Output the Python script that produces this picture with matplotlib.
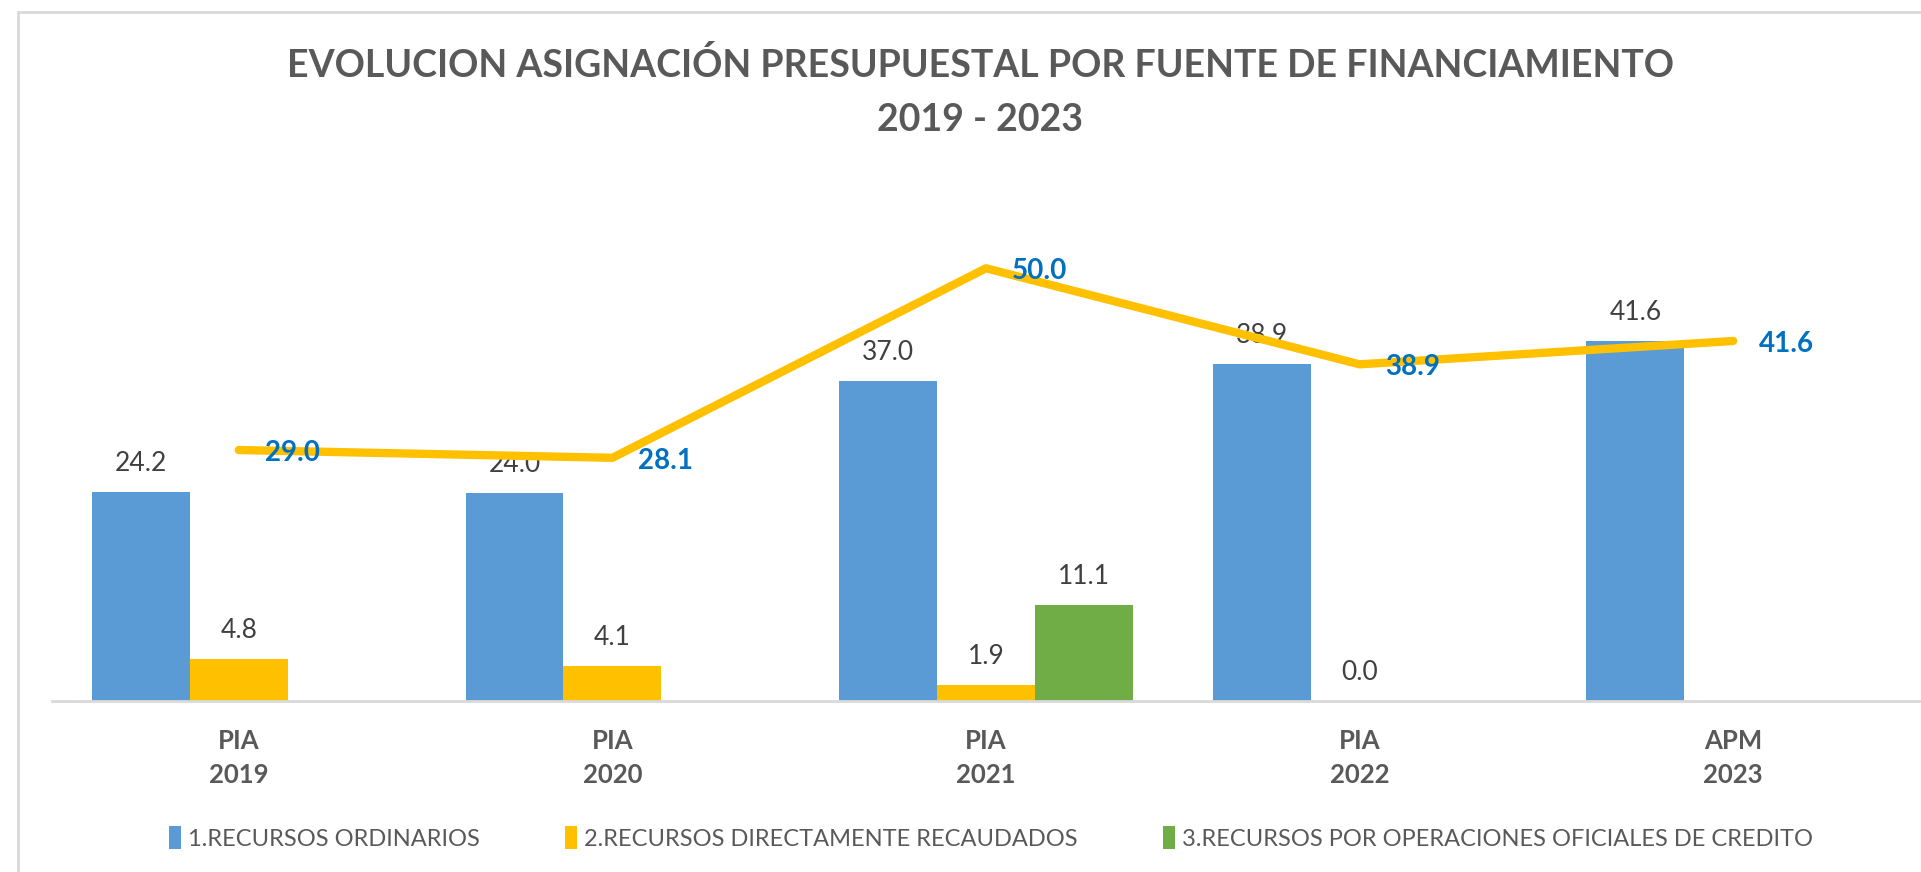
import numpy as np
import matplotlib.pyplot as plt
from matplotlib.patches import Rectangle

plt.rcParams['font.family'] = ['Lato', 'DejaVu Sans']

# datos (millones)
categorias = ["PIA\n2019", "PIA\n2020", "PIA\n2021", "PIA\n2022", "APM\n2023"]
ordinarios = [24.2, 24.0, 37.0, 38.9, 41.6]
directos = [4.8, 4.1, 1.9, 0.0, np.nan]
credito = [np.nan, np.nan, 11.1, np.nan, np.nan]
total = [29.0, 28.1, 50.0, 38.9, 41.6]

series = ["1.RECURSOS ORDINARIOS", "2.RECURSOS DIRECTAMENTE RECAUDADOS",
          "3.RECURSOS POR OPERACIONES OFICIALES DE CREDITO"]
colores = ["#5B9BD5", "#FFC000", "#70AD47"]

W, H = 1921, 872
fig = plt.figure(figsize=(W / 100, H / 100), dpi=100)
ax = fig.add_axes([52 / W, (H - 701) / H, (1920 - 52) / W, 476 / H])

x = np.arange(len(categorias))
ancho = 0.262
for i, (vals, col, nom) in enumerate(zip([ordinarios, directos, credito], colores, series)):
    pos = x + (i - 1) * ancho
    ax.bar(pos, vals, ancho, color=col, label=nom, zorder=2)
    for xp, v in zip(pos, vals):
        if not np.isnan(v):
            ax.annotate(f"{v:.1f}", (xp, v), xytext=(0, 16), textcoords="offset pixels",
                        ha="center", va="bottom", fontsize=19, color="#404040", zorder=3)

# linea del total
ax.plot(x, total, color="#FFC000", lw=6, zorder=4, solid_capstyle="round")
for xp, v in zip(x, total):
    ax.annotate(f"{v:.1f}", (xp, v), xytext=(26, -3), textcoords="offset pixels",
                ha="left", va="center", fontsize=20, fontweight="bold", color="#0070C0", zorder=5)

ax.set_xlim(-0.5, 4.5)
ax.set_ylim(0, 55)
ax.set_yticks([])
ax.set_xticks(x)
ax.set_xticklabels(categorias, fontsize=18.5, fontweight="bold", color="#595959", linespacing=1.5)
ax.tick_params(axis="x", length=0, pad=20)
for s in ["top", "right", "left"]:
    ax.spines[s].set_visible(False)
ax.spines["bottom"].set_color("#D9D9D9")
ax.spines["bottom"].set_linewidth(2)

fig.text(980 / W, 1 - 65 / H, "EVOLUCION ASIGNACIÓN PRESUPUESTAL POR FUENTE DE FINANCIAMIENTO",
         ha="center", va="center", fontsize=27, fontweight="bold", color="#595959")
fig.text(980 / W, 1 - 120 / H, "2019 - 2023",
         ha="center", va="center", fontsize=27, fontweight="bold", color="#595959")

fig.legend(loc="center", bbox_to_anchor=(991 / W, 1 - 838 / H), ncol=3, frameon=False,
           fontsize=17, handlelength=0.5, handleheight=1.1, handletextpad=0.3,
           columnspacing=3.6, labelcolor="#595959")

fig.patches.append(Rectangle((18 / W, -0.1), 1.2, 1 - 12 / H + 0.1, transform=fig.transFigure,
                             fill=False, edgecolor="#D9D9D9", lw=2))

fig.savefig("out.png", dpi=100)
